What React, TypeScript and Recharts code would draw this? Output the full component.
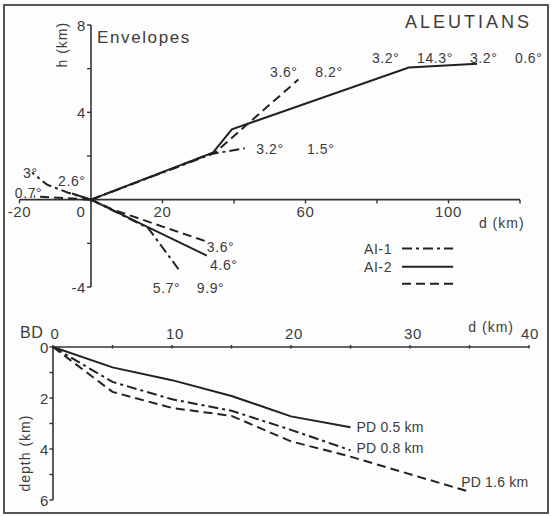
import React from "react";
import { LineChart, Line, XAxis, YAxis, ReferenceLine, ReferenceDot } from "recharts";

// ---------- Envelopes panel (d, h in km) ----------
const ai1Up = [ { d: 0, h: 0 }, { d: 34, h: 2.1 }, { d: 43, h: 2.35 } ];
const ai1Down = [ { d: 0, h: 0 }, { d: 16, h: -1.3 }, { d: 25, h: -3.3 } ];
const ai1Left = [ { d: 0, h: 0 }, { d: -6.4, h: 0.32 }, { d: -12.3, h: 0.69 }, { d: -16.5, h: 1.24 } ];

const ai2Up = [ { d: 0, h: 0 }, { d: 34.1, h: 2.15 }, { d: 39.4, h: 3.22 }, { d: 88.9, h: 6.05 }, { d: 108, h: 6.23 } ];
const ai2Down = [ { d: 0, h: 0 }, { d: 32.4, h: -2.56 } ];
const ai2Left = [ { d: 0, h: 0 }, { d: -5.3, h: 0.28 } ];

const thirdUp = [ { d: 0, h: 0 }, { d: 35, h: 2.2 }, { d: 58, h: 5.5 } ];
const thirdDown = [ { d: 0, h: 0 }, { d: 6, h: -0.45 }, { d: 32.4, h: -1.92 } ];
const thirdLeft = [ { d: 0, h: 0 }, { d: -16, h: 0.15 } ];

const topXTicks = [-20, 0, 20, 40, 60, 80, 100, 120];
const topXLabels = [-20, 0, 20, 60, 100];
const topYTicks = [-4, -2, 0, 2, 4, 6, 8];
const topYLabels = [8, 4, -4];

const angleLabels = [
  { text: "3.6°", d: 50.1, h: 5.86 },
  { text: "8.2°", d: 62.7, h: 5.86 },
  { text: "3.2°", d: 78.6, h: 6.5 },
  { text: "14.3°", d: 91.2, h: 6.5 },
  { text: "3.2°", d: 106, h: 6.5 },
  { text: "0.6°", d: 118.6, h: 6.5 },
  { text: "3.2°", d: 46.2, h: 2.3 },
  { text: "1.5°", d: 60.4, h: 2.3 },
  { text: "3°", d: -19, h: 1.24 },
  { text: "2.6°", d: -9.2, h: 0.87 },
  { text: "0.7°", d: -21.3, h: 0.32 },
  { text: "3.6°", d: 32.4, h: -2.15 },
  { text: "4.6°", d: 33.3, h: -3.0 },
  { text: "5.7°", d: 17.3, h: -4.03 },
  { text: "9.9°", d: 29.6, h: -4.03 },
];

const legendRows = [
  { name: "AI-1", dash: "10 4 3 4", h: -2.24 },
  { name: "AI-2", dash: "", h: -3.07 },
  { name: "", dash: "9 5", h: -3.85 },
];

// ---------- BD panel (d, depth in km) ----------
const pd05 = [ { d: 0, z: 0 }, { d: 5, z: 0.8 }, { d: 10, z: 1.3 }, { d: 15, z: 1.92 }, { d: 20, z: 2.72 }, { d: 25, z: 3.15 } ];
const pd08 = [ { d: 0, z: 0 }, { d: 5, z: 1.37 }, { d: 10, z: 2.05 }, { d: 15, z: 2.5 }, { d: 20, z: 3.25 }, { d: 25, z: 4.05 } ];
const pd16 = [ { d: 0, z: 0 }, { d: 5, z: 1.76 }, { d: 10, z: 2.39 }, { d: 15, z: 2.7 }, { d: 20, z: 3.7 }, { d: 25, z: 4.3 }, { d: 34.8, z: 5.65 } ];

const bdXTicks = [0, 5, 10, 15, 20, 25, 30, 35, 40];
const bdXLabels = [0, 10, 20, 30, 40];
const bdYTicks = [0, 1, 2, 3, 4, 5, 6];
const bdYLabels = [0, 2, 4, 6];

const pdLabels = [
  { text: "PD 0.5 km", d: 25.5, z: 3.14 },
  { text: "PD 0.8 km", d: 25.5, z: 3.96 },
  { text: "PD 1.6 km", d: 34.3, z: 5.29 },
];

const FONT = "'Liberation Sans', Arial, Helvetica, sans-serif";
const INK = "#222";
const TXT = "#3c3c3c";
const DASH = "9 5";
const DASHDOT = "10 4 3 4";

type TxtOpts = {
  anchor?: "start" | "middle" | "end";
  size?: number;
  dx?: number;
  dy?: number;
  rotate?: boolean;
  spacing?: number;
};

const textShape = (label: string, o: TxtOpts = {}) => (p: any) => {
  const x = p.cx + (o.dx || 0);
  const y = p.cy + (o.dy || 0);
  return (
    <text
      x={x}
      y={y}
      textAnchor={o.anchor || "start"}
      dominantBaseline="central"
      fontFamily={FONT}
      fontSize={o.size || 14}
      fill={TXT}
      letterSpacing={o.spacing ?? 0.6}
      transform={o.rotate ? `rotate(-90 ${x} ${y})` : undefined}
    >
      {label}
    </text>
  );
};

const lineProps = {
  type: "linear" as const,
  stroke: INK,
  strokeWidth: 2,
  dot: false,
  activeDot: false,
  isAnimationActive: false,
};

function EnvelopesPanel() {
  return (
    <LineChart
      width={551}
      height={300}
      margin={{ top: 25, right: 31, bottom: 13, left: 19.5 }}
      style={{ position: "absolute", left: 0, top: 0 }}
    >
      <XAxis type="number" dataKey="d" domain={[-20, 120]} hide />
      <YAxis type="number" dataKey="h" domain={[-4, 8]} hide />

      {/* axes crossing at the origin */}
      <ReferenceLine segment={[{ x: -20, y: 0 }, { x: 120, y: 0 }]} stroke="#333" strokeWidth={1.6} ifOverflow="visible" />
      <ReferenceLine segment={[{ x: 0, y: -4 }, { x: 0, y: 8 }]} stroke="#333" strokeWidth={1.6} ifOverflow="visible" />
      {topXTicks.map((t) => (
        <ReferenceLine key={"xt" + t} segment={[{ x: t, y: 0 }, { x: t, y: -0.17 }]} stroke="#333" strokeWidth={1.4} ifOverflow="visible" />
      ))}
      {topYTicks.map((t) => (
        <ReferenceLine key={"yt" + t} segment={[{ x: 0, y: t }, { x: -1.1, y: t }]} stroke="#333" strokeWidth={1.4} ifOverflow="visible" />
      ))}
      {topXLabels.map((t) => (
        <ReferenceDot key={"xl" + t} x={t} y={0} r={1} ifOverflow="visible"
          shape={textShape(String(t), { anchor: "middle", dy: 12, dx: t === 0 ? -10 : 0, size: 15 })} />
      ))}
      {topYLabels.map((t) => (
        <ReferenceDot key={"yl" + t} x={0} y={t} r={1} ifOverflow="visible"
          shape={textShape(String(t), { anchor: "end", dx: -5, size: 15 })} />
      ))}

      <Line {...lineProps} data={ai1Up} dataKey="h" strokeDasharray={DASHDOT} />
      <Line {...lineProps} data={ai1Down} dataKey="h" strokeDasharray={DASHDOT} />
      <Line {...lineProps} data={ai1Left} dataKey="h" strokeDasharray={DASHDOT} />
      <Line {...lineProps} data={ai2Up} dataKey="h" />
      <Line {...lineProps} data={ai2Down} dataKey="h" />
      <Line {...lineProps} data={ai2Left} dataKey="h" />
      <Line {...lineProps} data={thirdUp} dataKey="h" strokeDasharray={DASH} />
      <Line {...lineProps} data={thirdDown} dataKey="h" strokeDasharray={DASH} />
      <Line {...lineProps} data={thirdLeft} dataKey="h" strokeDasharray={DASH} />

      {angleLabels.map((a, i) => (
        <ReferenceDot key={"ang" + i} x={a.d} y={a.h} r={1} ifOverflow="visible" shape={textShape(a.text, { size: 14 })} />
      ))}

      {/* legend */}
      {legendRows.map((row, i) => (
        <ReferenceLine key={"lg" + i} segment={[{ x: 87, y: row.h }, { x: 101.3, y: row.h }]} stroke={INK} strokeWidth={2}
          strokeDasharray={row.dash || undefined} ifOverflow="visible" />
      ))}
      {legendRows.filter((r) => r.name).map((row) => (
        <ReferenceDot key={"lgt" + row.name} x={87} y={row.h} r={1} ifOverflow="visible"
          shape={textShape(row.name, { anchor: "end", dx: -10, size: 14 })} />
      ))}

      <ReferenceDot x={-8.1} y={7.1} r={1} ifOverflow="visible" shape={textShape("h (km)", { anchor: "middle", rotate: true, size: 14, spacing: 1 })} />
      <ReferenceDot x={108.5} y={-1.06} r={1} ifOverflow="visible" shape={textShape("d (km)", { size: 14, spacing: 1 })} />
      <ReferenceDot x={1.7} y={7.42} r={1} ifOverflow="visible" shape={textShape("Envelopes", { size: 17, spacing: 1.6 })} />
      <ReferenceDot x={87.8} y={8.15} r={1} ifOverflow="visible" shape={textShape("ALEUTIANS", { size: 18, spacing: 3 })} />
    </LineChart>
  );
}

function BDPanel() {
  return (
    <LineChart
      width={551}
      height={216}
      margin={{ top: 47, right: 22, bottom: 16, left: 53 }}
      style={{ position: "absolute", left: 0, top: 300 }}
    >
      <XAxis type="number" dataKey="d" domain={[0, 40]} hide />
      <YAxis type="number" dataKey="z" domain={[0, 6]} reversed hide />

      <ReferenceLine segment={[{ x: 0, y: 0 }, { x: 40, y: 0 }]} stroke="#333" strokeWidth={1.6} ifOverflow="visible" />
      <ReferenceLine segment={[{ x: 0, y: 0 }, { x: 0, y: 6 }]} stroke="#333" strokeWidth={1.6} ifOverflow="visible" />
      {bdXTicks.map((t) => (
        <ReferenceLine key={"bxt" + t} segment={[{ x: t, y: -0.08 }, { x: t, y: 0.06 }]} stroke="#333" strokeWidth={1.4} ifOverflow="visible" />
      ))}
      {bdYTicks.map((t) => (
        <ReferenceLine key={"byt" + t} segment={[{ x: 0, y: t }, { x: -0.3, y: t }]} stroke="#333" strokeWidth={1.4} ifOverflow="visible" />
      ))}
      {bdXLabels.map((t) => (
        <ReferenceDot key={"bxl" + t} x={t} y={0} r={1} ifOverflow="visible"
          shape={textShape(String(t), { anchor: "middle", dy: -14, dx: t === 0 ? 2 : t === 40 ? 1 : 3, size: 15 })} />
      ))}
      {bdYLabels.map((t) => (
        <ReferenceDot key={"byl" + t} x={0} y={t} r={1} ifOverflow="visible"
          shape={textShape(String(t), { anchor: "end", dx: -4, size: 15 })} />
      ))}

      <Line {...lineProps} data={pd05} dataKey="z" />
      <Line {...lineProps} data={pd08} dataKey="z" strokeDasharray={DASHDOT} />
      <Line {...lineProps} data={pd16} dataKey="z" strokeDasharray={DASH} />

      {pdLabels.map((l) => (
        <ReferenceDot key={l.text} x={l.d} y={l.z} r={1} ifOverflow="visible" shape={textShape(l.text, { size: 14, spacing: 0.2 })} />
      ))}

      <ReferenceDot x={-2.77} y={-0.55} r={1} ifOverflow="visible" shape={textShape("BD", { size: 16, spacing: 0.5 })} />
      <ReferenceDot x={34.9} y={-0.78} r={1} ifOverflow="visible" shape={textShape("d (km)", { size: 14, spacing: 1 })} />
      <ReferenceDot x={-2.35} y={4.16} r={1} ifOverflow="visible" shape={textShape("depth (km)", { anchor: "middle", rotate: true, size: 14, spacing: 1 })} />
    </LineChart>
  );
}

export default function App() {
  return (
    <div style={{ position: "absolute", left: 0, top: 0, width: 551, height: 516, background: "#fdfdfd", overflow: "hidden" }}>
      <div
        style={{
          position: "absolute",
          left: 3,
          top: 4,
          width: 546,
          height: 510,
          border: "2px solid #555",
          boxSizing: "border-box",
        }}
      />
      <EnvelopesPanel />
      <BDPanel />
    </div>
  );
}
